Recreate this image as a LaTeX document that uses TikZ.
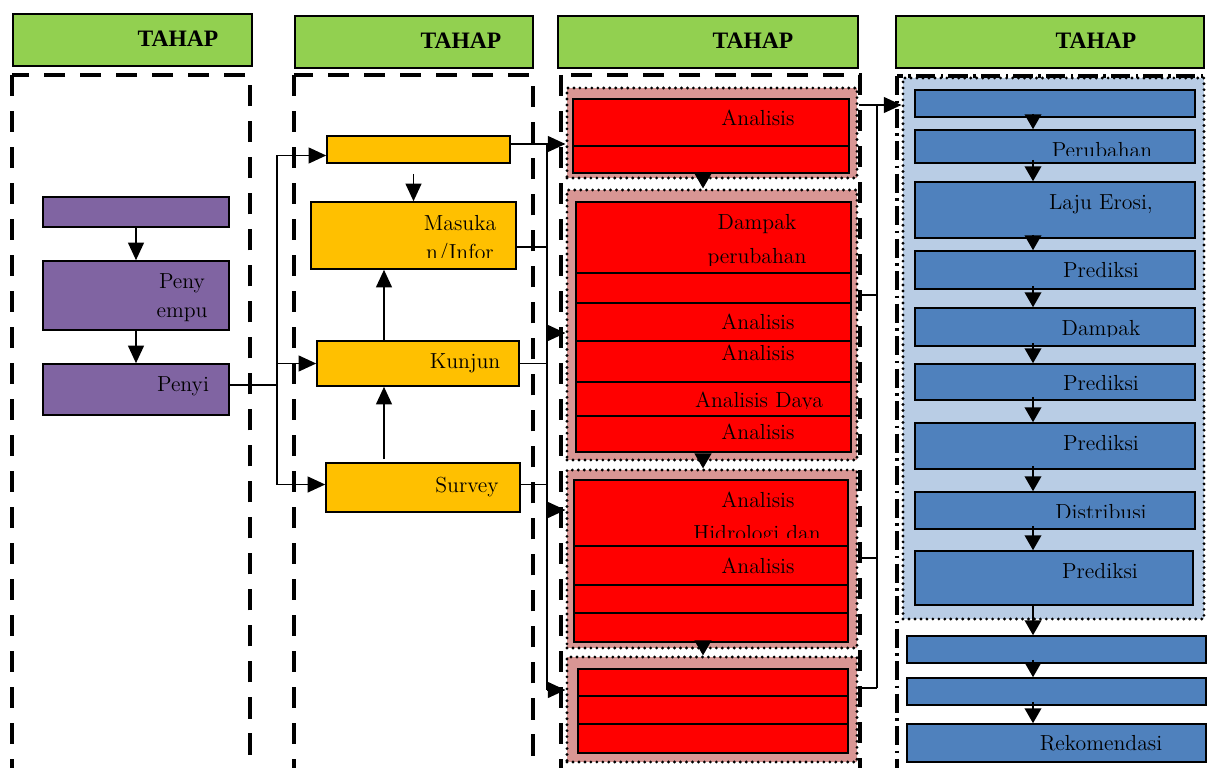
\documentclass[tikz,border=0pt]{standalone}
\usepackage{fontspec}
\newfontfamily\hdrfont{Liberation Serif}
\usetikzlibrary{arrows.meta,fit,calc}
\definecolor{hgreen}{HTML}{92D050}
\definecolor{hpurple}{HTML}{8064A2}
\definecolor{hyellow}{HTML}{FFC000}
\definecolor{hred}{HTML}{FF0000}
\definecolor{hpink}{HTML}{D99694}
\definecolor{hblue}{HTML}{4F81BD}
\definecolor{hlblue}{HTML}{B9CDE5}
\tikzset{
  rbox/.style={fit={#1}, inner sep=0pt, draw=black, line width=0.9pt},
  hdr/.style={rbox={#1}, fill=hgreen},
  pbox/.style={rbox={#1}, fill=hpurple},
  ybox/.style={rbox={#1}, fill=hyellow},
  redbox/.style={rbox={#1}, fill=hred},
  bbox/.style={rbox={#1}, fill=hblue},
  dotb/.style={draw=black, line width=1.8pt, dash pattern=on 0pt off 3.4pt, line cap=round},
  grp/.style={fit={#1}, inner sep=0pt, fill=hpink, dotb},
  bgrp/.style={fit={#1}, inner sep=0pt, fill=hlblue, dotb},
  lane/.style={draw=black, line width=2.3pt, dash pattern=on 12pt off 8.5pt},
  lanefour/.style={draw=black, line width=2.3pt, dash pattern=on 11pt off 3pt on 1.5pt off 3pt},
  conn/.style={draw=black, line width=1pt},
  arr/.style={conn, -{Triangle[length=10pt,width=9pt]}},
  sarr/.style={conn, -{Triangle[length=8.5pt,width=9.5pt]}},
  lbl/.style={font=\fontsize{12.4}{15}\selectfont, inner sep=0pt, anchor=base},
  hlbl/.style={font=\hdrfont\bfseries\fontsize{13.4}{15}\selectfont, inner sep=0pt, anchor=base},
}
\newcommand\cliplbl[5]{\begin{scope}\clip (0,0) rectangle (1209,#4);\node[lbl] (#1) at (#2,#3) {#5};\end{scope}}
\begin{document}
\begin{tikzpicture}[x=0.02cm,y=-0.02cm]
\useasboundingbox (0,0) rectangle (1209,767);
\clip (0,0) rectangle (1209,767);
% headers
\node[hdr={(13,14) (252,66)}] (H1) {};
\node[hdr={(295,16) (533,68)}] (H2) {};
\node[hdr={(558,16) (858,68)}] (H3) {};
\node[hdr={(896,16) (1204,68)}] (H4) {};
% groups
\node[grp={(567,88) (857,178)}] (G1) {};
\node[grp={(567,190) (857,460)}] (G2) {};
\node[grp={(567,470) (857,648)}] (G3) {};
\node[grp={(567,657) (857,762)}] (G4) {};
\node[bgrp={(903,78) (1204,619)}] (BG) {};
% lanes
\draw[lane] (12,75) rectangle (250,800);
\draw[lane] (294,75) rectangle (533,800);
\draw[lane] (561,75) rectangle (860,800);
\draw[lanefour] (897,76) rectangle (1216,800);
% purple
\node[pbox={(43,197) (229,227)}] (P1) {};
\node[pbox={(43,261) (229,330)}] (P2) {};
\node[pbox={(43,364) (229,415)}] (P3) {};
% yellow
\node[ybox={(327,136) (510,163)}] (Y1) {};
\node[ybox={(311,202) (516,269)}] (Y2) {};
\node[ybox={(317,341) (519,386)}] (Y3) {};
\node[ybox={(326,463) (520,512)}] (Y4) {};
% red
\node[redbox={(573,99) (849,146)}] (R1a) {};
\node[redbox={(573,146) (849,173)}] (R1b) {};
\node[redbox={(576,202) (851,273)}] (R2a) {};
\node[redbox={(576,273) (851,303)}] (R2b) {};
\node[redbox={(576,303) (851,341)}] (R2c) {};
\node[redbox={(576,341) (851,382)}] (R2d) {};
\node[redbox={(576,382) (851,416)}] (R2e) {};
\node[redbox={(576,416) (851,452)}] (R2f) {};
\node[redbox={(574,480) (848,546)}] (R3a) {};
\node[redbox={(574,546) (848,585)}] (R3b) {};
\node[redbox={(574,585) (848,613)}] (R3c) {};
\node[redbox={(574,613) (848,642)}] (R3d) {};
\node[redbox={(578,669) (848,696)}] (R4a) {};
\node[redbox={(578,696) (848,724)}] (R4b) {};
\node[redbox={(578,724) (848,753)}] (R4c) {};
% blue
\node[bbox={(915,90) (1195,117)}] (B1) {};
\node[bbox={(915,130) (1195,163)}] (B2) {};
\node[bbox={(915,182) (1195,238)}] (B3) {};
\node[bbox={(915,251) (1195,289)}] (B4) {};
\node[bbox={(915,308) (1195,346)}] (B5) {};
\node[bbox={(915,364) (1195,400)}] (B6) {};
\node[bbox={(915,423) (1195,469)}] (B7) {};
\node[bbox={(915,492) (1195,529)}] (B8) {};
\node[bbox={(915,551) (1193,605)}] (B9) {};
\node[bbox={(907,636) (1206,663)}] (B10) {};
\node[bbox={(907,678) (1206,705)}] (B11) {};
\node[bbox={(907,724) (1206,762)}] (B12) {};
% coordinates
\coordinate (hub) at (277,385);
\coordinate (ux) at (384,0);
\coordinate (k1) at (547,144);
\coordinate (k2) at (547,247);
\coordinate (a2) at (547,333);
\coordinate (a3) at (547,510);
\coordinate (k4) at (547,690);
\coordinate (ax) at (703,0);
\coordinate (t1) at (877,105);
\coordinate (c2) at (877,295);
\coordinate (c3) at (877,558);
\coordinate (c4) at (877,688);
\coordinate (bx) at (1033,0);
% column 1 and 2 connectors
\draw[arr] (P1.south) -- (P2.north);
\draw[arr] (P2.south) -- (P3.north);
\draw[conn] (P3.east |- hub) -- (hub);
\draw[arr] (hub) |- ($(Y1.west)+(0,6)$);
\draw[arr] (hub) |- ($(Y4.west)+(0,-3)$);
\draw[arr] (hub |- Y3.west) -- (Y3.west);
\draw[arr] ($(Y1.south -| Y2.north)+(0,10)$) -- (Y2.north);
\draw[arr] (Y3.north -| ux) -- (Y2.south -| ux);
\draw[arr] ($(Y4.north -| ux)+(0,-3)$) -- (Y3.south -| ux);
% yellow to red
\draw[arr] (Y1.east |- k1) -- (k1 -| G1.west);
\draw[conn] (k1) -- (k4);
\draw[conn] (Y2.east |- k2) -- (k2);
\draw[conn] (Y3.east) -- (Y3.east -| k1);
\draw[conn] ($(Y4.east)+(0,-3)$) -- ($(Y4.east -| k1)+(0,-3)$);
\draw[arr] (a2) -- (a2 -| G2.west);
\draw[arr] (a3) -- (a3 -| G3.west);
\draw[arr] (k4) -- (k4 -| G4.west);
% red internal
\draw[sarr] ($(G1.south -| ax)+(0,-8)$) -- (G2.north -| ax);
\draw[sarr] ($(G2.south -| ax)+(0,-8)$) -- (G3.north -| ax);
\draw[sarr] ($(G3.south -| ax)+(0,-8)$) -- (G4.north -| ax);
% red to blue
\draw[conn] (G1.east |- t1) -- (t1);
\draw[arr] (t1) -- (t1 -| BG.west);
\draw[conn] (t1) -- (c4);
\draw[conn] (G2.east |- c2) -- (c2);
\draw[conn] (G3.east |- c3) -- (c3);
\draw[conn] (G4.east |- c4) -- (c4);
% blue chain
\foreach \a/\b in {B1/B2,B2/B3,B3/B4,B4/B5,B5/B6,B6/B7,B7/B8,B8/B9,B10/B11,B11/B12}
  \draw[sarr] ($(\a.south -| bx)+(0,-4)$) -- (\b.north -| bx);
\draw[sarr] (B9.south -| bx) -- (B10.north -| bx);
% texts
\node[hlbl] (tH1) at (178,47) {TAHAP};
\node[hlbl] (tH2) at (461,49) {TAHAP};
\node[hlbl] (tH3) at (753,49) {TAHAP};
\node[hlbl] (tH4) at (1096,49) {TAHAP};
\node[lbl] (tP2a) at (182,288) {Peny};
\node[lbl] (tP2b) at (182,317) {empu};
\node[lbl] (tP3) at (183,391) {Penyi};
\node[lbl] (tY2a) at (460,230) {Masuka};
\cliplbl{tY2b}{460}{259}{257}{n/Infor}
\node[lbl] (tY3) at (465,368) {Kunjun};
\node[lbl] (tY4) at (467,492) {Survey};
\node[lbl] (tR1a) at (758,125) {Analisis};
\node[lbl] (tR2a) at (757,229) {Dampak};
\cliplbl{tR2b}{757}{263}{265}{perubahan}
\node[lbl] (tR2c) at (758,329) {Analisis};
\node[lbl] (tR2d) at (758,360) {Analisis};
\cliplbl{tR2e}{759}{407}{408}{Analisis Daya}
\cliplbl{tR2f}{758}{439}{439}{Analisis}
\node[lbl] (tR3a) at (758,507) {Analisis};
\cliplbl{tR3b}{757}{540}{537}{Hidrologi dan}
\node[lbl] (tR3c) at (758,573) {Analisis};
\cliplbl{tB2}{1102}{157}{155}{Perubahan}
\node[lbl] (tB3) at (1101,209) {Laju Erosi,};
\node[lbl] (tB4) at (1101,277) {Prediksi};
\cliplbl{tB5}{1101}{335}{336}{Dampak}
\cliplbl{tB6}{1101}{390}{389}{Prediksi}
\node[lbl] (tB7) at (1101,450) {Prediksi};
\cliplbl{tB8}{1101}{519}{517}{Distribusi}
\node[lbl] (tB9) at (1100,578) {Prediksi};
\node[lbl] (tB12) at (1101,750) {Rekomendasi};
\end{tikzpicture}
\end{document}
